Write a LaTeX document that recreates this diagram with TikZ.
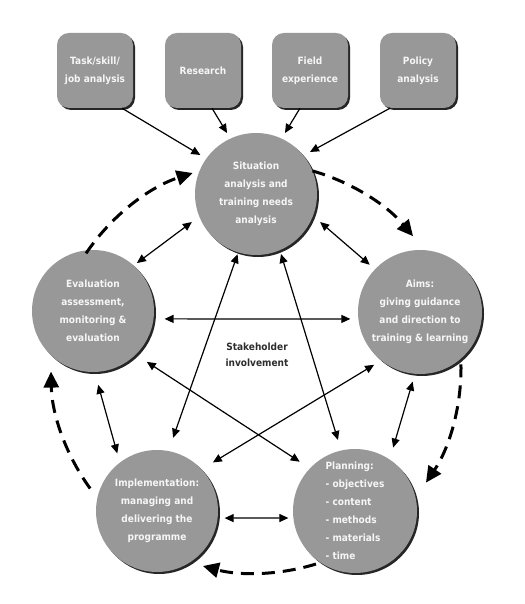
\documentclass[tikz,border=0pt]{standalone}
\usepackage{fontspec}
\setmainfont{DejaVu Sans}
\newfontfamily\labfont[FakeStretch=0.9]{DejaVu Sans}
\usetikzlibrary{arrows.meta,calc,shadows}
\definecolor{nodegray}{RGB}{152,152,152}
\definecolor{txtwhite}{RGB}{246,246,246}
\definecolor{txtdark}{RGB}{45,45,45}
\begin{document}
\begin{tikzpicture}[x=1pt,y=1pt,
  shade/.style={drop shadow={shadow xshift=2pt,shadow yshift=-2pt,fill=black!85,opacity=1}},
  circ/.style={circle,minimum size=122pt,inner sep=0pt,fill=nodegray,text=txtwhite,
    font=\labfont\bfseries\fontsize{10}{18}\selectfont,align=center,shade},
  topbox/.style={rectangle,rounded corners=12pt,minimum width=76pt,minimum height=75pt,
    inner sep=0pt,fill=nodegray,text=txtwhite,font=\labfont\bfseries\fontsize{10}{18}\selectfont,
    align=center,shade},
  link/.style={line width=1.2pt,{Triangle[length=9pt,width=8pt]}-{Triangle[length=9pt,width=8pt]}},
  feed/.style={line width=1.2pt,-{Triangle[length=9pt,width=8pt]}},
  cyc/.style={line width=3pt,dash pattern=on 13pt off 8pt,-{Triangle[length=16pt,width=15pt]}}
]
\useasboundingbox (0,0) rectangle (524,604);

% top boxes
\node[topbox] (t1) at (95,533.5) {Task/skill/\\job analysis};
\node[topbox] (t2) at (203,533.5) {Research};
\node[topbox] (t3) at (310,533.5) {Field\\experience};
\node[topbox] (t4) at (418,533.5) {Policy\\analysis};

% circles
\node[circ] (S) at (256,410) {Situation\\analysis and\\training needs\\analysis};
\node[circ] (E) at (93,293) {Evaluation\\assessment,\\monitoring \&\\evaluation};
\node[circ,minimum size=124pt] (A) at (420,292) {Aims:\\giving guidance\\and direction to\\training \& learning};
\node[circ] (I) at (157,93) {Implementation:\\managing and\\delivering the\\programme};
\node[circ,minimum size=124pt,align=left] (P) at (355,93) {Planning:\\- objectives\\- content\\- methods\\- materials\\- time};

\node[font=\labfont\bfseries\fontsize{10}{16}\selectfont,text=txtdark,align=center] (SH) at (257,249) {Stakeholder\\involvement};

\coordinate (C) at (256,236);

% inputs
\draw[feed] ($(t1.south)+(27,0)$) -- ($(S)+(145:68)$);
\draw[feed] ($(t2.south)+(9,0)$) -- ($(S)+(115.4:67.5)$);
\draw[feed] ($(t3.south)+(-10,0)$) -- ($(S)+(64.6:67.5)$);
\draw[feed] ($(t4.south)+(-28,0)$) -- ($(S)+(37.9:68.4)$);

% neighbour links
\draw[link] ($(S)+(203.6:70)$) -- ($(E)+(47.5:65)$);
\draw[link] ($(S)+(-23.6:70)$) -- ($(A)+(136.8:69)$);
\draw[link] ($(E)+(-6.3:72)$) -- ($(A)+(185.7:70)$);
\draw[link] ($(E)+(-86:74)$) -- ($(I)+(124.6:70)$);
\draw[link] ($(A)+(264:70)$) -- ($(P)+(59:74)$);
\draw[link] ($(I)+(-6:68)$) -- ($(P)+(186:67)$);

% star links
\draw[link] ($(S)+(253:63)$) -- ($(I)+(77.6:75)$);
\draw[link] ($(S)+(292.6:65)$) -- ($(P)+(103.5:73)$);
\draw[link] ($(E)+(-43.4:74)$) -- ($(P)+(138.3:74)$);
\draw[link] ($(A)+(229:70)$) -- ($(I)+(41:74)$);

% cycle
\draw[cyc] ($(C)+(146:205)$) arc[start angle=146,end angle=108,radius=205];
\draw[cyc] ($(C)+(74:205)$) arc[start angle=74,end angle=40,radius=205];
\draw[cyc] ($(C)+(1:205)$) arc[start angle=1,end angle=-34,radius=205];
\draw[cyc] ($(C)+(-73:205)$) arc[start angle=-73,end angle=-105,radius=205];
\draw[cyc] ($(C)+(-144:205)$) arc[start angle=-144,end angle=-179,radius=205];
\end{tikzpicture}
\end{document}
